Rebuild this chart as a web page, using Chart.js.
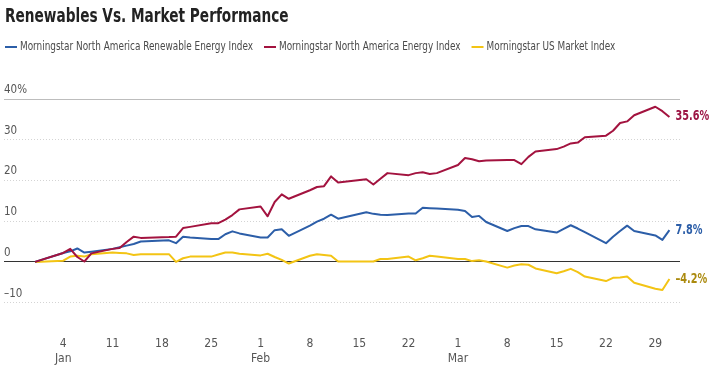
<!DOCTYPE html>
<html>
<head>
<meta charset="utf-8">
<script src="https://cdn.jsdelivr.net/npm/chart.js@4.4.1/dist/chart.umd.min.js"></script>
<style>
  html, body { margin: 0; padding: 0; background: #fff; }
  #wrap { width: 724px; height: 375px; position: relative; }
</style>
</head>
<body>
<div id="wrap"><canvas id="chart"></canvas></div>
<script>
// trading days, Q1 2021
const tradingDays = [
  '2020-12-31',
  '2021-01-04', '2021-01-05', '2021-01-06', '2021-01-07', '2021-01-08',
  '2021-01-11', '2021-01-12', '2021-01-13', '2021-01-14', '2021-01-15',
  '2021-01-19', '2021-01-20', '2021-01-21', '2021-01-22',
  '2021-01-25', '2021-01-26', '2021-01-27', '2021-01-28', '2021-01-29',
  '2021-02-01', '2021-02-02', '2021-02-03', '2021-02-04', '2021-02-05',
  '2021-02-08', '2021-02-09', '2021-02-10', '2021-02-11', '2021-02-12',
  '2021-02-16', '2021-02-17', '2021-02-18', '2021-02-19',
  '2021-02-22', '2021-02-23', '2021-02-24', '2021-02-25', '2021-02-26',
  '2021-03-01', '2021-03-02', '2021-03-03', '2021-03-04', '2021-03-05',
  '2021-03-08', '2021-03-09', '2021-03-10', '2021-03-11', '2021-03-12',
  '2021-03-15', '2021-03-16', '2021-03-17', '2021-03-18', '2021-03-19',
  '2021-03-22', '2021-03-23', '2021-03-24', '2021-03-25', '2021-03-26',
  '2021-03-29', '2021-03-30', '2021-03-31'
];

// cumulative return, %
const renewableIndex = [
  0,
  2.2, 2.6, 3.3, 2.3, 2.5,
  3.2, 3.6, 4.0, 4.4, 5.0,
  5.3, 4.6, 6.2, 6.0,
  5.6, 5.6, 6.8, 7.5, 7.0,
  6.0, 6.0, 7.8, 8.0, 6.4,
  8.9, 9.9, 10.6, 11.6, 10.6,
  12.2, 11.8, 11.6, 11.5,
  11.9, 11.9, 13.3, 13.2, 13.1,
  12.8, 12.5, 11.0, 11.3, 9.8,
  7.6, 8.3, 8.8, 8.8, 8.0,
  7.2, 8.1, 9.0, 8.2, 7.3,
  4.6, 6.2, 7.6, 8.9, 7.6,
  6.5, 5.4, 7.8
];
const energyIndex = [
  0,
  2.2, 3.2, 1.2, 0.1, 2.1,
  3.2, 3.4, 4.9, 6.2, 5.9,
  6.1, 6.2, 8.3, 8.6,
  9.5, 9.5, 10.4, 11.5, 12.9,
  13.6, 11.2, 14.7, 16.6, 15.5,
  17.6, 18.4, 18.6, 21.0, 19.5,
  20.3, 19.0, 20.4, 21.8,
  21.3, 21.8, 22.0, 21.6, 21.8,
  23.8, 25.5, 25.2, 24.7, 24.9,
  25.0, 25.0, 24.0, 25.8, 27.1,
  27.7, 28.3, 29.1, 29.3, 30.6,
  31.0, 32.2, 34.1, 34.5, 36.0,
  38.1, 37.0, 35.6
];
const usMarketIndex = [
  0,
  0.3, 1.3, 1.5, 1.3, 1.9,
  2.3, 2.2, 2.1, 1.7, 1.9,
  1.9, 0.0, 0.9, 1.3,
  1.3, 1.8, 2.3, 2.3, 2.0,
  1.6, 2.0, 1.2, 0.5, -0.4,
  1.5, 1.9, 1.7, 1.5, 0.1,
  0.1, 0.1, 0.7, 0.7,
  1.3, 0.4, 0.9, 1.5, 1.3,
  0.7, 0.7, 0.2, 0.4, 0.1,
  -1.4, -0.9, -0.6, -0.7, -1.6,
  -2.8, -2.3, -1.7, -2.5, -3.6,
  -4.7, -3.9, -3.8, -3.6, -5.1,
  -6.6, -6.9, -4.2
];

const xTickDates = [
  '2021-01-04', '2021-01-11', '2021-01-18', '2021-01-25',
  '2021-02-01', '2021-02-08', '2021-02-15', '2021-02-22',
  '2021-03-01', '2021-03-08', '2021-03-15', '2021-03-22', '2021-03-29'
];
const yTickValues = [-10, 0, 10, 20, 30, 40];
const monthNames = ['Jan', 'Feb', 'Mar', 'Apr', 'May', 'Jun', 'Jul', 'Aug', 'Sep', 'Oct', 'Nov', 'Dec'];

const chartTitle = 'Renewables Vs. Market Performance';
const fontFamily = "'Liberation Sans Narrow', 'DejaVu Sans Condensed', 'Arial Narrow', sans-serif";
const baseDay = Date.UTC(2021, 0, 4);

function dayNum(iso) {
  const [y, m, d] = iso.split('-').map(Number);
  return (Date.UTC(y, m - 1, d) - baseDay) / 86400000;
}

function toPoints(values) {
  return values.map((v, i) => ({ x: dayNum(tradingDays[i]), y: v }));
}

function formatPct(v) {
  return (v < 0 ? '\u2013' + Math.abs(v).toFixed(1) : v.toFixed(1)) + '%';
}

const xTickNums = xTickDates.map(dayNum);

function xLabel(value) {
  const idx = xTickNums.indexOf(value);
  if (idx < 0) return '';
  const [, m, d] = xTickDates[idx].split('-').map(Number);
  const prevMonth = idx > 0 ? Number(xTickDates[idx - 1].split('-')[1]) : -1;
  if (m !== prevMonth) return [String(d), monthNames[m - 1]];
  return String(d);
}

// no condensed face installed, so squeeze text horizontally
function squeezedText(ctx, text, x, y, font, color, squeeze) {
  ctx.save();
  ctx.font = font;
  ctx.fillStyle = color;
  ctx.translate(x, y);
  ctx.scale(squeeze, 1);
  ctx.fillText(text, 0, 0);
  const w = ctx.measureText(text).width * squeeze;
  ctx.restore();
  return w;
}

const headline = {
  id: 'headline',
  afterDraw(chart) {
    const { ctx } = chart;
    ctx.save();
    ctx.textBaseline = 'alphabetic';
    squeezedText(ctx, chartTitle, 5, 22, 'bold 20px ' + fontFamily, '#222', 0.76);
    ctx.restore();
  }
};

// one-row legend: short line + squeezed label
const lineLegend = {
  id: 'lineLegend',
  afterDraw(chart) {
    const { ctx } = chart;
    let x = 5;
    const y = 47;
    ctx.save();
    ctx.textBaseline = 'middle';
    chart.data.datasets.forEach((ds) => {
      ctx.strokeStyle = ds.borderColor;
      ctx.lineWidth = 2;
      ctx.beginPath();
      ctx.moveTo(x, y);
      ctx.lineTo(x + 12, y);
      ctx.stroke();
      const w = squeezedText(ctx, ds.label, x + 15, y, '13px ' + fontFamily, '#4a4a4a', 0.76);
      x += 15 + w + 11;
    });
    ctx.restore();
  }
};

const endLabels = {
  id: 'endLabels',
  afterDatasetsDraw(chart) {
    const { ctx } = chart;
    ctx.save();
    ctx.textBaseline = 'middle';
    chart.data.datasets.forEach((ds, i) => {
      const meta = chart.getDatasetMeta(i);
      const last = meta.data[meta.data.length - 1];
      const value = ds.data[ds.data.length - 1].y;
      squeezedText(ctx, formatPct(value), last.x + 6, last.y, 'bold 13.5px ' + fontFamily, ds.endLabelColor, 0.8);
    });
    ctx.restore();
  }
};

new Chart(document.getElementById('chart'), {
  type: 'line',
  data: {
    datasets: [
      {
        label: 'Morningstar North America Renewable Energy Index',
        data: toPoints(renewableIndex),
        borderColor: '#2c5ea8',
        endLabelColor: '#2c5ea8',
        order: 1
      },
      {
        label: 'Morningstar North America Energy Index',
        data: toPoints(energyIndex),
        borderColor: '#a3133f',
        endLabelColor: '#9c1544',
        order: 0
      },
      {
        label: 'Morningstar US Market Index',
        data: toPoints(usMarketIndex),
        borderColor: '#f3c414',
        endLabelColor: '#ab8a0e',
        order: 2
      }
    ]
  },
  options: {
    responsive: true,
    maintainAspectRatio: false,
    animation: false,
    elements: {
      line: { borderWidth: 2, tension: 0, borderJoinStyle: 'round' },
      point: { radius: 0 }
    },
    layout: { padding: { left: 4, right: 44, top: 99, bottom: 0 } },
    plugins: {
      title: { display: false },
      legend: { display: false },
      tooltip: { enabled: false }
    },
    scales: {
      x: {
        type: 'linear',
        min: -8.4,
        max: 87.5,
        afterBuildTicks: (axis) => { axis.ticks = xTickNums.map(v => ({ value: v })); },
        afterFit: (axis) => { axis.height = 52; },
        grid: { display: false, drawTicks: false },
        border: { display: false },
        ticks: {
          autoSkip: false,
          maxRotation: 0,
          padding: 13,
          color: '#555',
          font: { family: fontFamily, size: 12, lineHeight: 1.25 },
          callback: (value) => xLabel(value)
        }
      },
      y: {
        min: -15,
        max: 40,
        afterBuildTicks: (axis) => { axis.ticks = yTickValues.map(v => ({ value: v })); },
        grid: {
          drawTicks: false,
          lineWidth: 1,
          color: (ctx) => {
            const v = ctx.tick && ctx.tick.value;
            if (v === 0) return '#333';
            if (v === 40) return '#bdbdbd';
            return '#d4d4d4';
          }
        },
        border: {
          display: false,
          dash: (ctx) => {
            const v = ctx.tick && ctx.tick.value;
            return (v === 0 || v === 40) ? [] : [1, 2];
          }
        },
        ticks: {
          mirror: true,
          padding: 0,
          labelOffset: -9,
          color: '#555',
          font: { family: fontFamily, size: 11.5 },
          callback: (value) => {
            if (value === 40) return '40%';
            if (value < 0) return '\u2013' + Math.abs(value);
            return String(value);
          }
        }
      }
    }
  },
  plugins: [headline, lineLegend, endLabels]
});
</script>
</body>
</html>
